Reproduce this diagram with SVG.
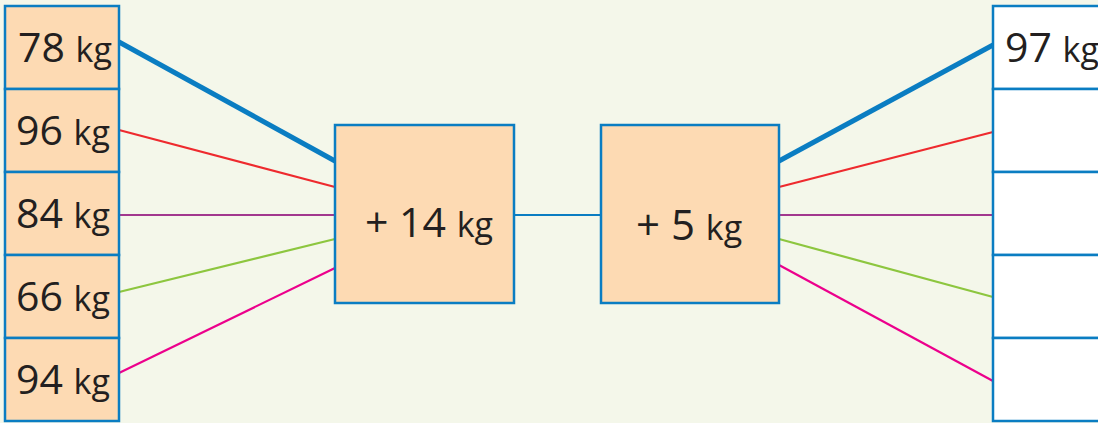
<svg xmlns="http://www.w3.org/2000/svg" width="1098" height="423" viewBox="0 0 1098 423">
<style>
.bg{fill:#F4F7EA}
.box{fill:#FDDAB3;stroke:#0A7DC2;stroke-width:2.5}
.wbox{fill:#FFFFFF;stroke:#0A7DC2;stroke-width:2.5}
.t{font-family:"Open Sans","DejaVu Sans",sans-serif;fill:#231F20;font-size:41px}
.u{font-size:34px}
.c{fill:none;stroke-width:2.2}
.thick{stroke-width:5}
</style>
<rect class="bg" x="0" y="0" width="1098" height="423"/>
<g id="connectors">
<line class="c thick" x1="119" y1="42" x2="335" y2="161" stroke="#0A7DC2"/>
<line class="c" x1="119" y1="130" x2="335" y2="187" stroke="#EE2A2E"/>
<line class="c" x1="119" y1="215" x2="335" y2="215" stroke="#A2388E"/>
<line class="c" x1="119" y1="292" x2="335" y2="239" stroke="#8DC63F"/>
<line class="c" x1="119" y1="373" x2="335" y2="268" stroke="#EC008C"/>
<line class="c" x1="514" y1="215" x2="601" y2="215" stroke="#0A7DC2"/>
<line class="c thick" x1="779" y1="161" x2="993" y2="45" stroke="#0A7DC2"/>
<line class="c" x1="779" y1="187" x2="993" y2="132" stroke="#EE2A2E"/>
<line class="c" x1="779" y1="215" x2="993" y2="215" stroke="#A2388E"/>
<line class="c" x1="779" y1="239" x2="993" y2="297" stroke="#8DC63F"/>
<line class="c" x1="779" y1="265" x2="993" y2="381" stroke="#EC008C"/>
</g>
<g id="in1"><rect class="box" x="5" y="6" width="114" height="83"/><text class="t" x="18" y="62">78 <tspan class="u">kg</tspan></text></g>
<g id="in2"><rect class="box" x="5" y="89" width="114" height="83"/><text class="t" x="16" y="145">96 <tspan class="u">kg</tspan></text></g>
<g id="in3"><rect class="box" x="5" y="172" width="114" height="83"/><text class="t" x="16" y="228">84 <tspan class="u">kg</tspan></text></g>
<g id="in4"><rect class="box" x="5" y="255" width="114" height="83"/><text class="t" x="16" y="311">66 <tspan class="u">kg</tspan></text></g>
<g id="in5"><rect class="box" x="5" y="338" width="114" height="83"/><text class="t" x="16" y="394">94 <tspan class="u">kg</tspan></text></g>
<g id="op1"><rect class="box" x="335" y="125" width="179" height="178"/><text class="t" x="365" y="237" style="font-size:41px">+ 14 <tspan class="u">kg</tspan></text></g>
<g id="op2"><rect class="box" x="601" y="125" width="178" height="178"/><text class="t" x="636" y="240" style="font-size:42px">+ 5 <tspan class="u">kg</tspan></text></g>
<g id="out1"><rect class="wbox" x="993" y="6" width="110" height="83"/><text class="t" x="1005" y="62">97 <tspan class="u">kg</tspan></text></g>
<g id="out2"><rect class="wbox" x="993" y="89" width="110" height="83"/></g>
<g id="out3"><rect class="wbox" x="993" y="172" width="110" height="83"/></g>
<g id="out4"><rect class="wbox" x="993" y="255" width="110" height="83"/></g>
<g id="out5"><rect class="wbox" x="993" y="338" width="110" height="83"/></g>
</svg>
